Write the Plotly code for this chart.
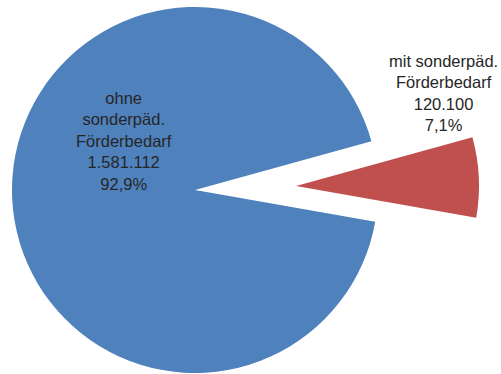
import plotly.graph_objects as go

# ---- data ----
labels = ["ohne sonderpäd. Förderbedarf", "mit sonderpäd. Förderbedarf"]
label_lines = ["ohne<br>sonderpäd.<br>Förderbedarf", "mit sonderpäd.<br>Förderbedarf"]
values = [1581112, 120100]
colors = ["#4F81BD", "#C0504D"]

W, H = 501, 374
total = sum(values)

def de_int(v):
    return f"{v:,}".replace(",", ".")

def de_pct(v):
    return f"{100 * v / total:.1f}".replace(".", ",") + "%"

label_texts = [f"{l}<br>{de_int(v)}<br>{de_pct(v)}" for l, v in zip(label_lines, values)]

transparent = "rgba(0,0,0,0)"

def dom(cx, cy, r, rx_extra=5):
    # cx, cy in pixels from top-left
    return dict(
        x=[(cx - r - rx_extra) / W, (cx + r + rx_extra) / W],
        y=[(H - cy - r) / H, (H - cy + r) / H],
    )

common = dict(
    labels=labels,
    values=values,
    sort=False,
    direction="clockwise",
    rotation=100,
    textinfo="none",
    hoverinfo="skip",
    showlegend=False,
)

fig = go.Figure()
# main (blue) slice
fig.add_trace(go.Pie(
    **common,
    marker=dict(colors=[colors[0], transparent], line=dict(width=0)),
    domain=dom(195, 190, 183),
))
# exploded (red) slice
fig.add_trace(go.Pie(
    **common,
    marker=dict(colors=[transparent, colors[1]], line=dict(width=0)),
    domain=dom(296, 186, 183),
))

font = dict(family="Liberation Sans, Arial, sans-serif", size=16.5, color="#262626")
fig.add_annotation(text=label_texts[0], x=124 / W, y=1 - 141 / H, xref="paper", yref="paper",
                   xanchor="center", yanchor="middle", showarrow=False, font=font, align="center")
fig.add_annotation(text=label_texts[1], x=443 / W, y=1 - 93 / H, xref="paper", yref="paper",
                   xanchor="center", yanchor="middle", showarrow=False, font=font, align="center")

fig.update_layout(
    width=W, height=H,
    margin=dict(l=0, r=0, t=0, b=0),
    paper_bgcolor="white",
    plot_bgcolor="white",
)

fig.write_html("out.html")
